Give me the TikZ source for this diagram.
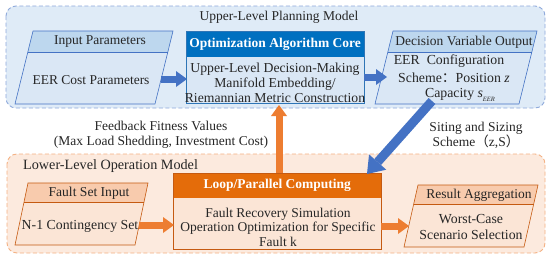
\documentclass[tikz,border=0pt]{standalone}
\usepackage{fontspec}
\setmainfont{Liberation Serif}
\newfontfamily\cjk{Noto Sans CJK SC}
\usetikzlibrary{arrows.meta,calc}
\definecolor{panelB}{HTML}{DFEBF7}
\definecolor{panelBline}{HTML}{8EA9DB}
\definecolor{paraB}{HTML}{DAE7F5}
\definecolor{paraBh}{HTML}{BDD7EE}
\definecolor{lineB}{HTML}{4472C4}
\definecolor{coreH}{HTML}{0070C0}
\definecolor{coreLine}{HTML}{2E75B6}
\definecolor{panelO}{HTML}{FCEADE}
\definecolor{panelOline}{HTML}{F4B183}
\definecolor{paraO}{HTML}{FBE5D6}
\definecolor{paraOh}{HTML}{F8CBAD}
\definecolor{lineO}{HTML}{C55A11}
\definecolor{loopH}{HTML}{E46C0A}
\definecolor{arrB}{HTML}{4472C4}
\definecolor{arrO}{HTML}{ED7D31}
\definecolor{txt}{HTML}{262626}
\newcommand\paral[8]{%
  \pgfmathsetmacro\hdx{#6*#7/#5}%
  \coordinate (#1-nw) at (#2,#3);
  \fill[para#8] (#1-nw) -- ++(#4,0) -- ++(-#6,#5) -- ++(-#4,0) -- cycle;
  \fill[para#8h] (#1-nw) -- ++(#4,0) -- ++(-\hdx,#7) -- ++(-#4,0) -- cycle;
  \draw[line#8, line width=0.6pt] (#1-nw) -- ++(#4,0) -- ++(-#6,#5) -- ++(-#4,0) -- cycle;
  \draw[line#8, line width=0.6pt] ($(#1-nw)+(-\hdx,#7)$) -- ++(#4,0);
}
\newcommand\fsz[2]{\fontsize{#1}{#2}\selectfont}
\begin{document}
\begin{tikzpicture}[x=1pt,y=-1pt,
  every node/.style={font=\fsz{13.5}{15}, text=txt, inner sep=0pt, align=center},
  panel/.style={dashed, dash pattern=on 4pt off 2.5pt, line width=0.9pt, rounded corners=10pt},
  arrowS/.style={line width=7pt, -{Triangle[length=11pt,width=16pt,line width=0pt]}},
  arrowL/.style={line width=9pt, -{Triangle[length=16pt,width=23pt,line width=0pt]}}]
\useasboundingbox (0,0) rectangle (550,260);
\fill[white] (0,0) rectangle (550,260);
% panels
\draw[panel, draw=panelBline, fill=panelB] (6,6) rectangle (545,108);
\draw[panel, draw=panelOline, fill=panelO] (7,154) rectangle (545,253);
\node (uptitle) at (279,17) {Upper-Level Planning Model};
\node[anchor=west, font=\fsz{14.2}{16}] (lowtitle) at (23,166) {Lower-Level Operation Model};
% upper parallelograms
\paral{inp}{33}{31}{140}{73}{18}{21}{B}
\node (inph) at (100,42) {Input Parameters};
\node (inpb) at (91,80) {EER Cost Parameters};
\paral{dec}{393}{31}{144}{73}{18}{21}{B}
\node (dech) at (464,42) {Decision Variable Output};
\node[font=\fsz{13.8}{15}] (decb1) at (449,61) {EER\ \ Configuration};
\node[font=\fsz{13.8}{15}] (decb2) at (454,78) {Scheme{\cjk ：}Position \textit{z}};
\node[font=\fsz{13.8}{15}] (decb3) at (460,95) {Capacity \textit{s}\raisebox{-0.5ex}{\fsz{6.5}{7}\textit{EER}}};
% core box
\node[draw=coreLine, fill=paraB, line width=0.8pt, minimum width=178pt, minimum height=72pt, anchor=north west] (core) at (186,31) {};
\node[fill=coreH, minimum width=178pt, minimum height=26pt, anchor=north west] (coreh) at (186,31) {};
\draw[coreLine, line width=0.8pt] (core.north west) rectangle (core.south east);
\node[text=white, font=\fsz{13.5}{15}\bfseries] (coret) at (coreh.center) {Optimization Algorithm Core};
\node[font=\fsz{13.7}{15}] (coreb) at (275,83) {Upper-Level Decision-Making\\Manifold Embedding/\\Riemannian Metric Construction};
% lower parallelograms
\paral{flt}{28}{183}{120}{62}{13}{19}{O}
\node[font=\fsz{13.6}{16}] (flth) at (89,193) {Fault Set Input};
\node[font=\fsz{13.8}{16}] (fltb) at (80,226) {N-1 Contingency Set};
\paral{res}{418}{185}{120}{62}{14}{19}{O}
\node (resh) at (479,195) {Result Aggregation};
\node[font=\fsz{13.8}{16}] (resb) at (471,227) {Worst-Case\\Scenario Selection};
% loop box
\node[draw=lineO, fill=paraO, line width=0.8pt, minimum width=208pt, minimum height=76pt, anchor=north west] (loop) at (173,173) {};
\node[fill=loopH, minimum width=208pt, minimum height=25pt, anchor=north west] (looph) at (173,173) {};
\draw[lineO, line width=0.8pt] (loop.north west) rectangle (loop.south east);
\node[text=white, font=\fsz{13.5}{15}\bfseries] (loopt) at (looph.center) {Loop/Parallel Computing};
\node[font=\fsz{13.5}{14.5}] (loopb) at (278,227) {Fault Recovery Simulation\\Operation Optimization for Specific\\Fault k};
% labels between panels
\node (fb) at (161,135) {Feedback Fitness Values\\(Max Load Shedding, Investment Cost)};
\node (ss) at (476,135) {Siting and Sizing\\Scheme{\cjk （}z,S{\cjk ）}};
% arrows
\coordinate (a1s) at (161,79); \coordinate (a1e) at (187,79);
\coordinate (a2s) at (364,77); \coordinate (a2e) at (387,77);
\coordinate (a3s) at (139,225); \coordinate (a3e) at (174,225);
\coordinate (a4s) at (381,226); \coordinate (a4e) at (409,226);
\coordinate (a5s) at (279,173); \coordinate (a5e) at (279,105);
\coordinate (a6s) at (432,101); \coordinate (a6e) at (367,174);
\draw[arrowS, arrB] (a1s) -- (a1e);
\draw[arrowS, arrB] (a2s) -- (a2e);
\draw[arrowS, arrO] (a3s) -- (a3e);
\draw[arrowS, arrO] (a4s) -- (a4e);
\draw[arrowS, arrO] (a5s) -- (a5e);
\draw[arrowL, arrB] (a6s) -- (a6e);
\end{tikzpicture}
\end{document}
